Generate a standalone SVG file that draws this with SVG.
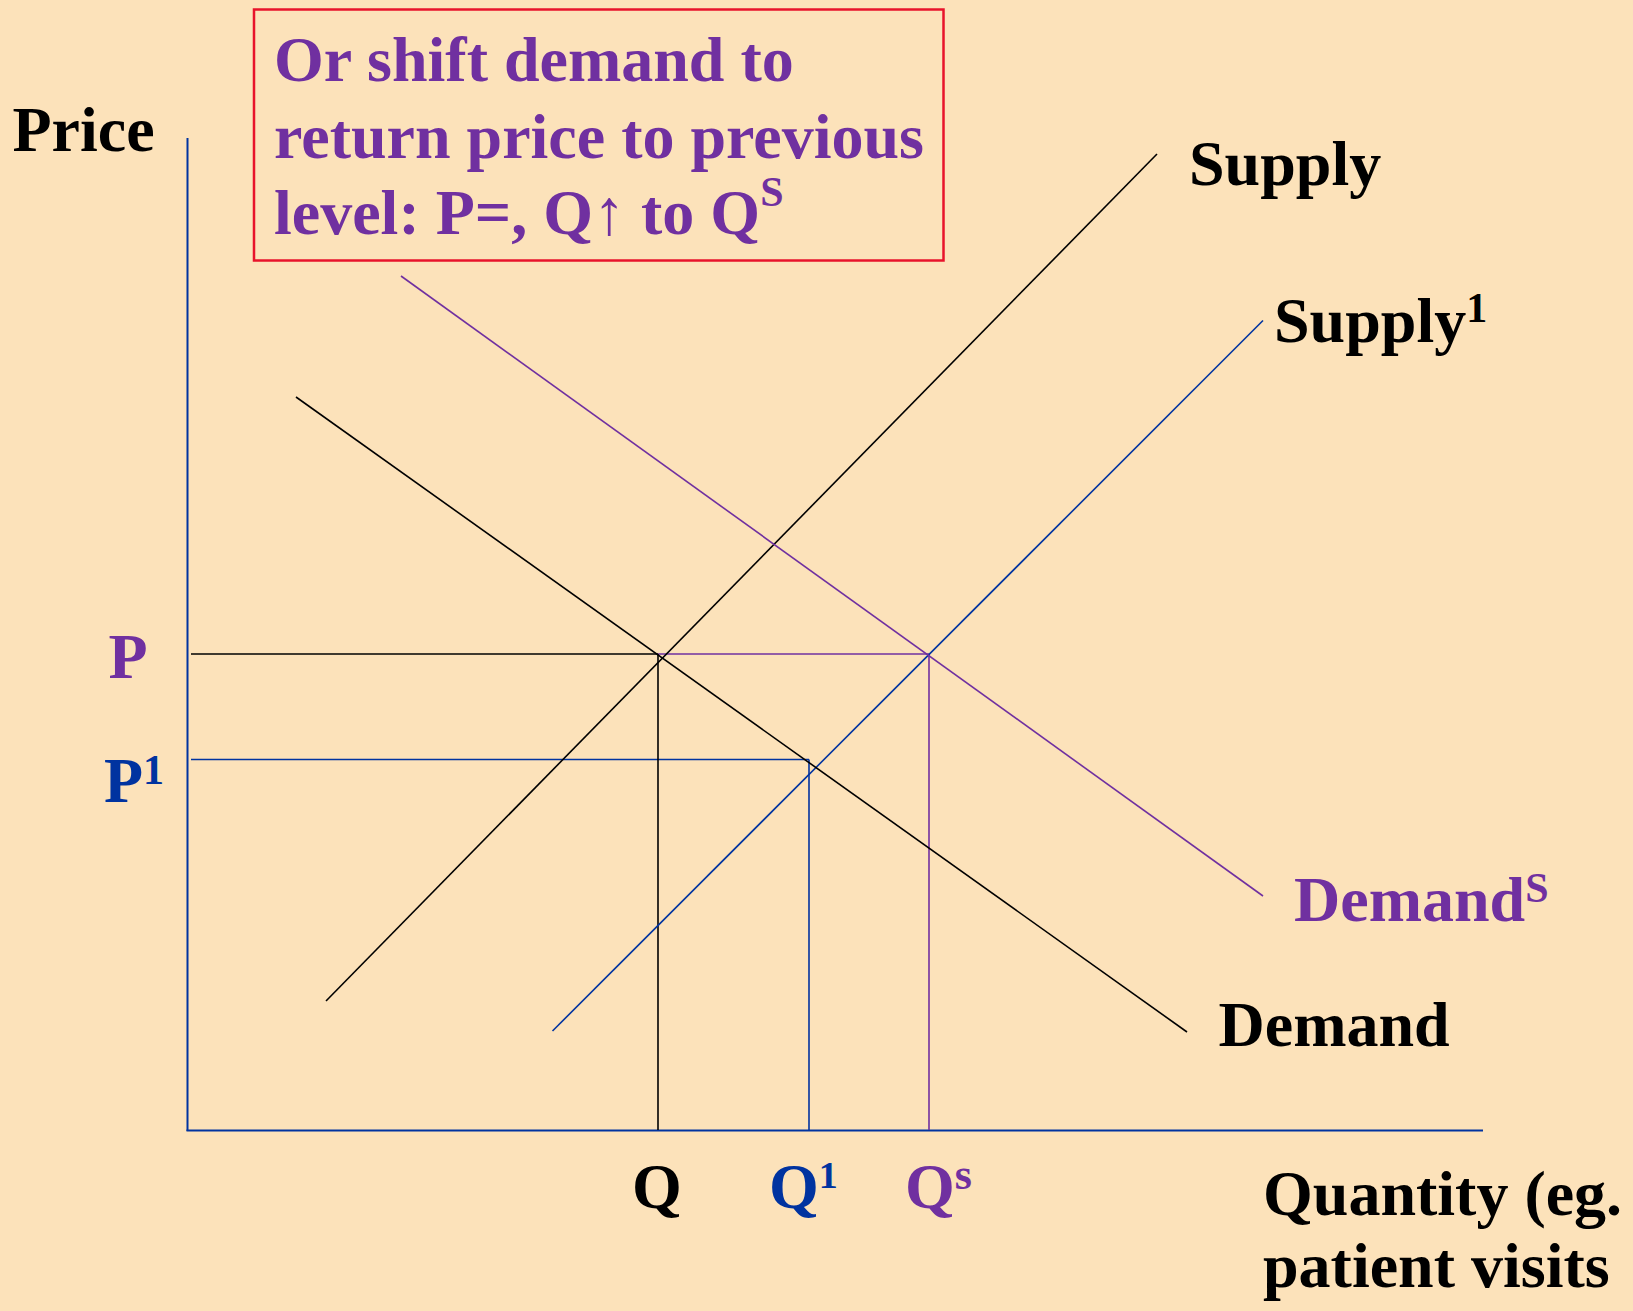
<svg xmlns="http://www.w3.org/2000/svg" width="1633" height="1311" viewBox="0 0 1633 1311">
<style>
text{font-family:"Liberation Serif","Times New Roman",serif;font-weight:bold;font-size:64px}
.k{fill:#000}.p{fill:#7030A0}.b{fill:#0033A0}
.sup{font-size:42px}
line{stroke-width:1.6;fill:none}
.lk{stroke:#000}.lp{stroke:#7030A0}.lb{stroke:#0033A0}
</style>
<rect x="0" y="0" width="1633" height="1311" fill="#FCE2BA"/>
<g id="connectors">
<line class="lb" x1="187.5" y1="138" x2="187.5" y2="1131" style="stroke-width:2"/>
<line class="lb" x1="186.5" y1="1130.5" x2="1483" y2="1130.5" style="stroke-width:2"/>
<line class="lk" x1="191" y1="654" x2="658" y2="654"/>
<line class="lp" x1="658" y1="654" x2="929" y2="654"/>
<line class="lb" x1="191" y1="759.5" x2="809" y2="759.5"/>
<line class="lk" x1="658" y1="654" x2="658" y2="1130"/>
<line class="lb" x1="809" y1="759.5" x2="809" y2="1130"/>
<line class="lp" x1="929" y1="654" x2="929" y2="1130"/>
<line id="supply" class="lk" x1="326" y1="1001" x2="1157" y2="154"/>
<line id="supply1" class="lb" x1="552.5" y1="1031" x2="1263" y2="320.5"/>
<line id="demand" class="lk" x1="296" y1="397" x2="1187" y2="1032"/>
<line id="demandS" class="lp" x1="401" y1="276" x2="1263" y2="896"/>
</g>
<g id="note">
<rect x="254" y="9.5" width="689.5" height="251" fill="none" stroke="#E8132B" stroke-width="2.5"/>
<text class="p" x="274" y="81">Or shift demand to</text>
<text class="p" x="274" y="158">return price to previous</text>
<text class="p" x="274" y="234">level: P=, Q↑ to Q<tspan class="sup" dy="-28">S</tspan></text>
</g>
<g id="axis-labels">
<text class="k" x="12.5" y="151">Price</text>
<text class="k" x="1263" y="1215">Quantity (eg.</text>
<text class="k" x="1263" y="1287">patient visits</text>
</g>
<g id="curve-labels">
<text class="k" x="1189" y="185">Supply</text>
<text class="k" x="1274" y="341.5">Supply<tspan class="sup" dy="-20">1</tspan></text>
<text class="p" x="1294" y="921">Demand<tspan class="sup" dy="-19">S</tspan></text>
<text class="k" x="1218.5" y="1045.5">Demand</text>
</g>
<g id="price-labels">
<text class="p" x="108.5" y="677.5">P</text>
<text class="b" x="104" y="801.5">P<tspan class="sup" dy="-18">1</tspan></text>
</g>
<g id="quantity-labels">
<text class="k" x="632" y="1208">Q</text>
<text class="b" x="769" y="1208">Q<tspan style="font-size:38px" dy="-20">1</tspan></text>
<text class="p" x="905" y="1208">Q<tspan style="font-size:44px" dy="-19">s</tspan></text>
</g>
</svg>
